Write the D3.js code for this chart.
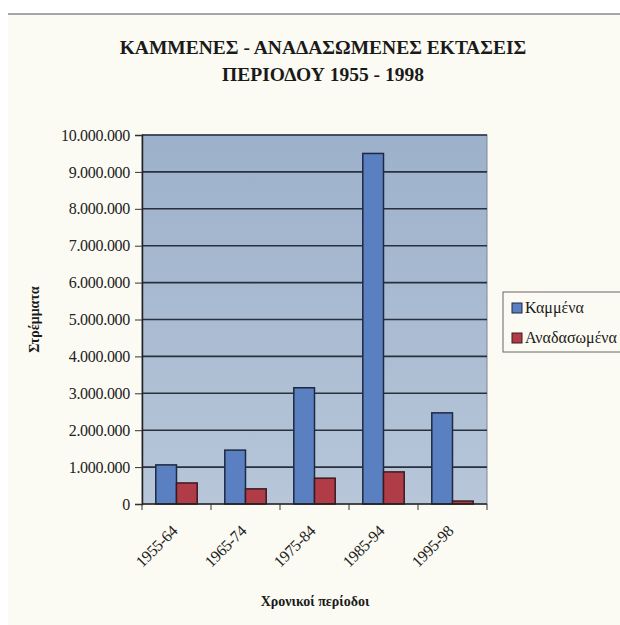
<!doctype html>
<html lang="el">
<head>
<meta charset="utf-8">
<title>Καμμένες - αναδασωμένες εκτάσεις</title>
<style>
  body { margin: 0; background: #fff; }
  svg { display: block; }
  svg text { font-family: "Liberation Serif", "DejaVu Serif", serif; }
</style>
</head>
<body>
<svg id="chart" width="620" height="625"></svg>
<script src="https://d3js.org/d3.v7.min.js"></script>
<script>
// data
const periods = ['1955-64', '1965-74', '1975-84', '1985-94', '1995-98'];
const burned = [1060000, 1460000, 3150000, 9500000, 2470000];
const reforested = [570000, 410000, 700000, 870000, 80000];
const seriesNames = ['Καμμένα', 'Αναδασωμένα'];
const titleLines = ['ΚΑΜΜΕΝΕΣ - ΑΝΑΔΑΣΩΜΕΝΕΣ ΕΚΤΑΣΕΙΣ', 'ΠΕΡΙΟΔΟΥ 1955 - 1998'];
const yTitle = 'Στρέμματα';
const xTitle = 'Χρονικοί περίοδοι';

const colors = ['#5a80c2', '#b03c48'];
const strokes = ['#1e2940', '#3b1a1e'];

const svg = d3.select('#chart');

// page background and the thin rule on top
svg.append('rect')
  .attr('x', 8).attr('y', 14).attr('width', 612).attr('height', 611)
  .attr('fill', '#fcfbf3');
svg.append('line')
  .attr('x1', 8).attr('x2', 620).attr('y1', 14).attr('y2', 14)
  .attr('stroke', '#8a8a8a').attr('stroke-width', 1.5);

const plot = { left: 142, right: 487, top: 135, bottom: 504 };

const x = d3.scaleBand()
  .domain(periods)
  .range([plot.left, plot.right])
  .paddingInner(0.4)
  .paddingOuter(0.2);
const xs = d3.scaleBand()
  .domain([0, 1])
  .range([0, x.bandwidth()]);
const y = d3.scaleLinear()
  .domain([0, 10000000])
  .range([plot.bottom, plot.top]);

const locale = d3.formatLocale({ decimal: ',', thousands: '.', grouping: [3], currency: ['', '€'] });
const fmt = locale.format(',d');

// plot area gradient
const defs = svg.append('defs');
const grad = defs.append('linearGradient')
  .attr('id', 'bg').attr('x1', 0).attr('y1', 0).attr('x2', 0).attr('y2', 1);
grad.append('stop').attr('offset', '0%').attr('stop-color', '#9db1cb');
grad.append('stop').attr('offset', '100%').attr('stop-color', '#b7c6d9');

svg.append('rect')
  .attr('x', plot.left).attr('y', plot.top)
  .attr('width', plot.right - plot.left).attr('height', plot.bottom - plot.top)
  .attr('fill', 'url(#bg)')
  .attr('stroke', '#7d8794').attr('stroke-width', 1);

// gridlines
svg.append('g')
  .selectAll('line')
  .data(y.ticks(10).filter(d => d > 0))
  .join('line')
  .attr('x1', plot.left).attr('x2', plot.right)
  .attr('y1', d => y(d)).attr('y2', d => y(d))
  .attr('stroke', '#27303c').attr('stroke-width', 1.6);

// y axis
const yAxis = svg.append('g')
  .attr('transform', `translate(${plot.left},0)`)
  .call(d3.axisLeft(y).ticks(10).tickFormat(fmt).tickSize(7).tickPadding(5));
yAxis.attr('font-family', null);
yAxis.select('.domain').attr('stroke', '#222').attr('stroke-width', 1.5);
yAxis.selectAll('.tick line').attr('stroke', '#333');
yAxis.selectAll('text')
  .attr('font-size', 16)
  .attr('fill', '#222').attr('letter-spacing', '-0.3');

// bars
const groups = svg.append('g')
  .selectAll('g')
  .data(periods)
  .join('g')
  .attr('transform', d => `translate(${x(d)},0)`);
groups.selectAll('rect')
  .data((d, i) => [burned[i], reforested[i]])
  .join('rect')
  .attr('x', (d, j) => xs(j))
  .attr('y', d => y(d))
  .attr('width', xs.bandwidth())
  .attr('height', d => plot.bottom - y(d))
  .attr('fill', (d, j) => colors[j])
  .attr('stroke', (d, j) => strokes[j])
  .attr('stroke-width', 1.5);

// x axis: ticks sit between the categories
const boundaries = periods.map(p => x(p) - x.step() * x.paddingInner() / 2).concat([plot.right]);
const xAxis = svg.append('g');
xAxis.append('line')
  .attr('x1', plot.left).attr('x2', plot.right)
  .attr('y1', plot.bottom).attr('y2', plot.bottom)
  .attr('stroke', '#222').attr('stroke-width', 1.5);
xAxis.selectAll('line.tk')
  .data(boundaries)
  .join('line')
  .attr('class', 'tk')
  .attr('x1', d => d).attr('x2', d => d)
  .attr('y1', plot.bottom).attr('y2', plot.bottom + 6)
  .attr('stroke', '#333');
xAxis.selectAll('text')
  .data(periods)
  .join('text')
  .attr('transform', d => `translate(${x(d) + x.bandwidth() / 2 + 2},${plot.bottom + 28}) rotate(-45)`)
  .attr('text-anchor', 'end')
  .attr('font-size', 16).attr('letter-spacing', '-0.3')
  .attr('fill', '#222')
  .text(d => d);

// titles
svg.append('text')
  .attr('x', 323).attr('y', 54)
  .attr('text-anchor', 'middle')
  .attr('font-size', 19.5).attr('font-weight', 'bold')
  .attr('fill', '#1a1a1a')
  .selectAll('tspan')
  .data(titleLines)
  .join('tspan')
  .attr('x', 323)
  .attr('dy', (d, i) => i ? 27 : 0)
  .text(d => d);

svg.append('text')
  .attr('transform', `translate(39,${(plot.top + plot.bottom) / 2}) rotate(-90)`)
  .attr('text-anchor', 'middle')
  .attr('font-size', 14).attr('font-weight', 'bold')
  .attr('fill', '#1a1a1a')
  .text(yTitle);

svg.append('text')
  .attr('x', 315).attr('y', 606)
  .attr('text-anchor', 'middle')
  .attr('font-size', 14).attr('font-weight', 'bold')
  .attr('fill', '#1a1a1a')
  .text(xTitle);

// legend
const legend = svg.append('g').attr('transform', 'translate(503,292)');
legend.append('rect')
  .attr('width', 130).attr('height', 60)
  .attr('fill', '#fcfbf3')
  .attr('stroke', '#666').attr('stroke-width', 1);
const items = legend.selectAll('g')
  .data(seriesNames)
  .join('g')
  .attr('transform', (d, i) => `translate(9,${11 + i * 30})`);
items.append('rect')
  .attr('width', 10).attr('height', 10)
  .attr('fill', (d, i) => colors[i])
  .attr('stroke', (d, i) => strokes[i]);
items.append('text')
  .attr('x', 13).attr('y', 10)
  .attr('font-size', 16)
  .attr('fill', '#1a1a1a')
  .text(d => d);
</script>
</body>
</html>
